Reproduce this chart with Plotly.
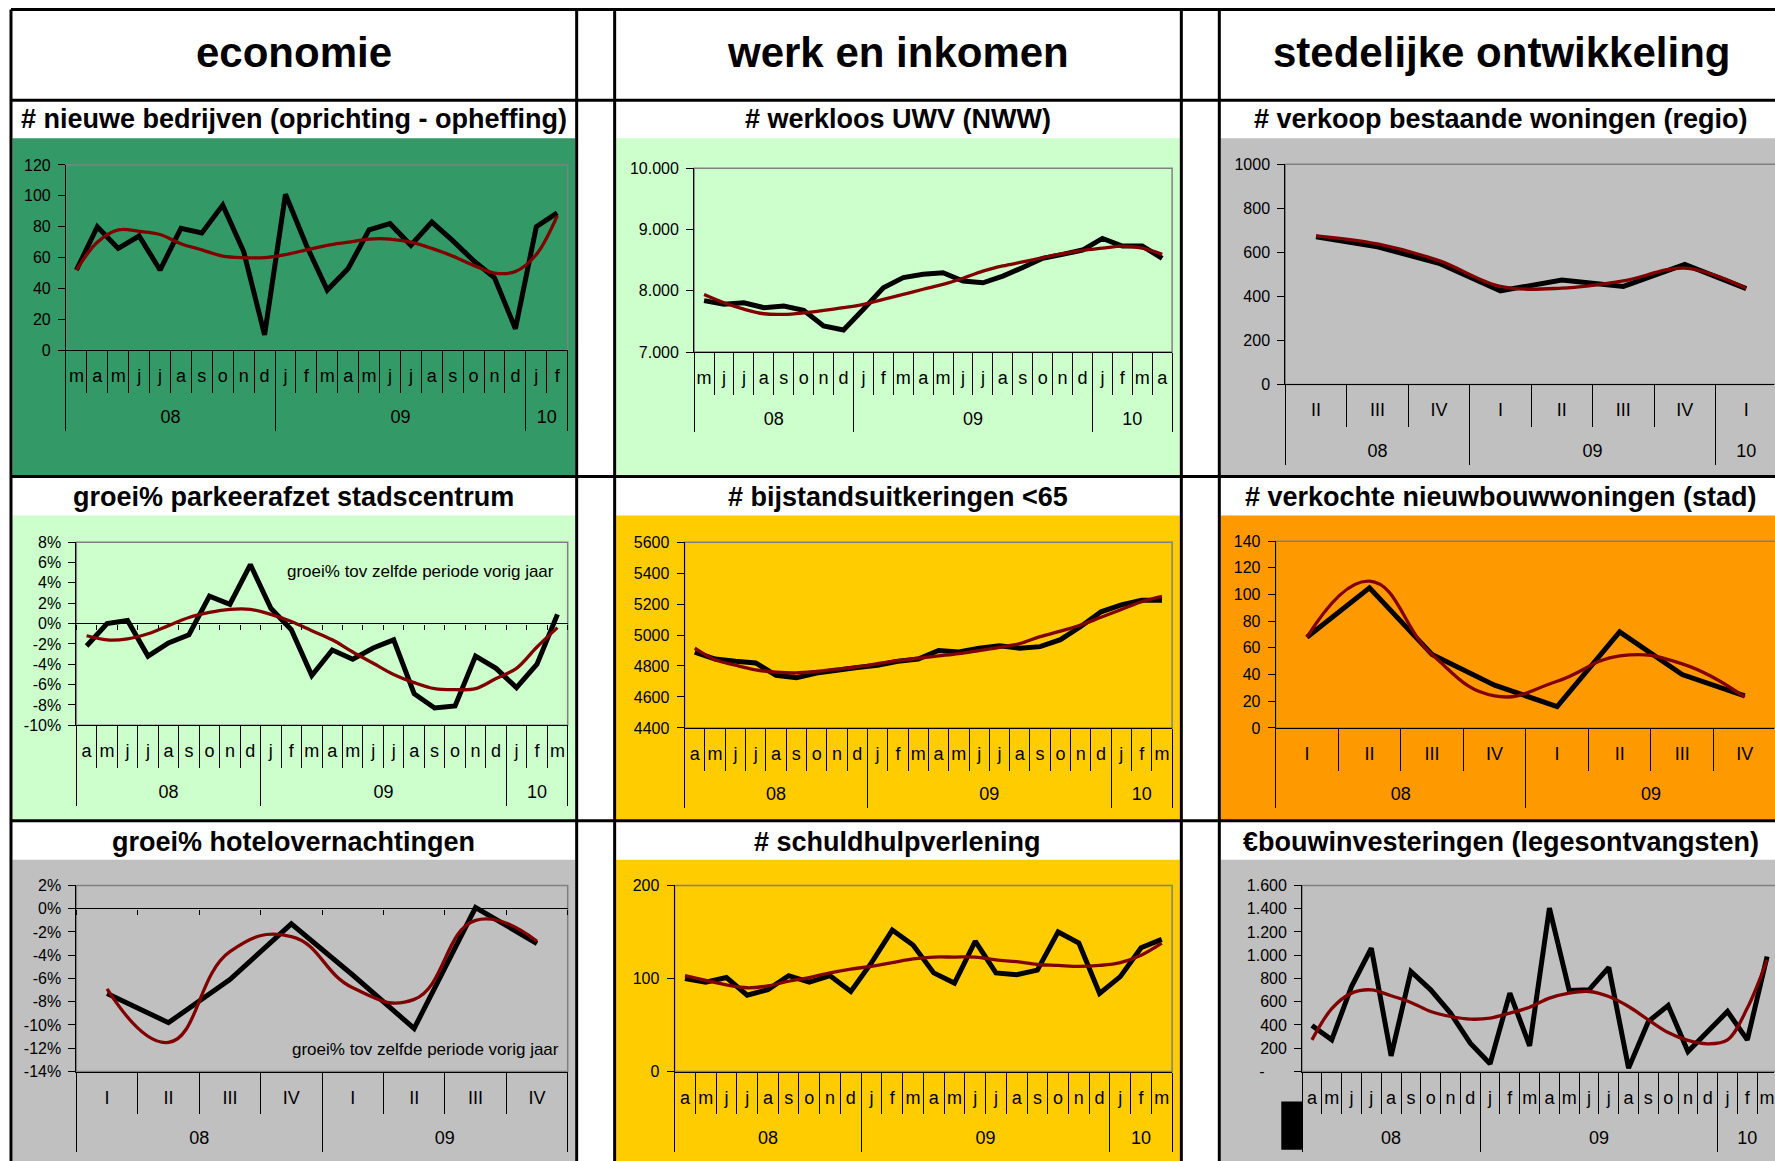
import plotly.graph_objects as go

W, H = 1775, 1161
FONT = "Liberation Sans, Arial, Helvetica, sans-serif"

# ---------------- data ----------------
header_labels = ["economie", "werk en inkomen", "stedelijke ontwikkeling"]
note_text = "groei% tov zelfde periode vorig jaar"

p1_title = "# nieuwe bedrijven (oprichting - opheffing)"
p1_cats = ["m", "a", "m", "j", "j", "a", "s", "o", "n", "d",
           "j", "f", "m", "a", "m", "j", "j", "a", "s", "o", "n", "d", "j", "f"]
p1_years = ["08", "09", "10"]
p1_year_sizes = [10, 12, 2]
p1_actual = [52, 80, 66, 74, 52, 79, 76, 94, 64, 10, 101, 68, 39, 53, 78, 82, 68, 83, 71, 58, 47, 14, 80, 89]
p1_trend = [52, 70, 78, 77, 75, 69, 65, 61, 60, 60, 62, 65, 68, 70, 72, 72, 70, 66, 61, 55, 50, 51, 62, 87]
p1_yvals = [0, 20, 40, 60, 80, 100, 120]
p1_ytext = ["0", "20", "40", "60", "80", "100", "120"]

p2_title = "# werkloos UWV (NWW)"
p2_cats = ["m", "j", "j", "a", "s", "o", "n", "d",
           "j", "f", "m", "a", "m", "j", "j", "a", "s", "o", "n", "d", "j", "f", "m", "a"]
p2_years = ["08", "09", "10"]
p2_year_sizes = [8, 12, 4]
p2_actual = [7840, 7780, 7805, 7725, 7750, 7680, 7425, 7360, 7700, 8050, 8215, 8270,
             8295, 8160, 8130, 8240, 8380, 8530, 8595, 8665, 8855, 8730, 8730, 8530]
p2_trend = [7940, 7805, 7700, 7625, 7615, 7640, 7680, 7725, 7780, 7860, 7940, 8025,
            8105, 8205, 8320, 8405, 8470, 8540, 8605, 8660, 8695, 8730, 8695, 8595]
p2_yvals = [7000, 8000, 9000, 10000]
p2_ytext = ["7.000", "8.000", "9.000", "10.000"]

p3_title = "# verkoop bestaande woningen (regio)"
p3_cats = ["II", "III", "IV", "I", "II", "III", "IV", "I"]
p3_years = ["08", "09", "10"]
p3_year_sizes = [3, 4, 1]
p3_actual = [670, 625, 550, 425, 474, 445, 545, 435]
p3_trend = [675, 638, 562, 445, 437, 470, 528, 437]
p3_yvals = [0, 200, 400, 600, 800, 1000]
p3_ytext = ["0", "200", "400", "600", "800", "1000"]

p4_title = "groei% parkeerafzet stadscentrum"
p4_cats = ["a", "m", "j", "j", "a", "s", "o", "n", "d",
           "j", "f", "m", "a", "m", "j", "j", "a", "s", "o", "n", "d", "j", "f", "m"]
p4_years = ["08", "09", "10"]
p4_year_sizes = [9, 12, 3]
p4_actual = [-2.2, 0.0, 0.3, -3.2, -1.9, -1.1, 2.7, 1.9, 5.8, 1.5, -0.6, -5.1,
             -2.6, -3.5, -2.4, -1.6, -6.9, -8.3, -8.1, -3.2, -4.4, -6.3, -4.0, 0.9]
p4_trend = [-1.2, -1.6, -1.5, -1.0, -0.2, 0.6, 1.1, 1.4, 1.4, 0.9, 0.2, -0.7,
            -1.6, -2.8, -3.9, -5.0, -5.8, -6.4, -6.5, -6.4, -5.4, -4.4, -2.3, -0.4]
p4_yvals = [-10, -8, -6, -4, -2, 0, 2, 4, 6, 8]
p4_ytext = ["-10%", "-8%", "-6%", "-4%", "-2%", "0%", "2%", "4%", "6%", "8%"]

p5_title = "# bijstandsuitkeringen <65"
p5_cats = ["a", "m", "j", "j", "a", "s", "o", "n", "d",
           "j", "f", "m", "a", "m", "j", "j", "a", "s", "o", "n", "d", "j", "f", "m"]
p5_years = ["08", "09", "10"]
p5_year_sizes = [9, 12, 3]
p5_actual = [4890, 4845, 4830, 4820, 4740, 4725, 4755, 4775, 4790, 4805, 4830, 4845,
             4900, 4890, 4915, 4930, 4915, 4925, 4970, 5055, 5150, 5195, 5225, 5225]
p5_trend = [4915, 4840, 4805, 4775, 4760, 4755, 4765, 4780, 4795, 4815, 4835, 4850,
            4865, 4880, 4900, 4920, 4945, 4990, 5025, 5065, 5115, 5165, 5215, 5250]
p5_yvals = [4400, 4600, 4800, 5000, 5200, 5400, 5600]
p5_ytext = ["4400", "4600", "4800", "5000", "5200", "5400", "5600"]

p6_title = "# verkochte nieuwbouwwoningen (stad)"
p6_cats = ["I", "II", "III", "IV", "I", "II", "III", "IV"]
p6_years = ["08", "09"]
p6_year_sizes = [4, 4]
p6_actual = [68, 105, 55, 32, 16, 72, 40, 24]
p6_trend = [68, 110, 55, 24, 35, 54, 48, 23]
p6_yvals = [0, 20, 40, 60, 80, 100, 120, 140]
p6_ytext = ["0", "20", "40", "60", "80", "100", "120", "140"]

p7_title = "groei% hotelovernachtingen"
p7_cats = ["I", "II", "III", "IV", "I", "II", "III", "IV"]
p7_years = ["08", "09"]
p7_year_sizes = [4, 4]
p7_actual = [-7.3, -9.8, -6.1, -1.3, -5.7, -10.3, 0.1, -3.0]
p7_trend = [-6.9, -11.5, -3.7, -2.4, -6.8, -7.8, -1.0, -2.8]
p7_yvals = [-14, -12, -10, -8, -6, -4, -2, 0, 2]
p7_ytext = ["-14%", "-12%", "-10%", "-8%", "-6%", "-4%", "-2%", "0%", "2%"]

p8_title = "# schuldhulpverlening"
p8_cats = ["a", "m", "j", "j", "a", "s", "o", "n", "d",
           "j", "f", "m", "a", "m", "j", "j", "a", "s", "o", "n", "d", "j", "f", "m"]
p8_years = ["08", "09", "10"]
p8_year_sizes = [9, 12, 3]
p8_actual = [100, 96, 101, 82, 88, 103, 96, 103, 86, 117, 152, 136,
             106, 95, 140, 106, 104, 109, 150, 138, 84, 102, 133, 142]
p8_trend = [103, 98, 93, 90, 92, 97, 101, 106, 110, 113, 117, 121,
            123, 123, 123, 120, 118, 115, 114, 113, 114, 117, 125, 138]
p8_yvals = [0, 100, 200]
p8_ytext = ["0", "100", "200"]

p9_title = "€bouwinvesteringen (legesontvangsten)"
p9_cats = ["a", "m", "j", "j", "a", "s", "o", "n", "d",
           "j", "f", "m", "a", "m", "j", "j", "a", "s", "o", "n", "d", "j", "f", "m"]
p9_years = ["08", "09", "10"]
p9_year_sizes = [9, 12, 3]
p9_actual = [396, 272, 731, 1061, 135, 860, 702, 502, 244, 66, 674, 221,
             1405, 697, 702, 895, 29, 430, 568, 172, 344, 516, 272, 989]
p9_trend = [272, 540, 674, 702, 651, 594, 516, 473, 450, 459, 502, 553,
            631, 674, 688, 645, 559, 444, 335, 267, 238, 272, 545, 960]
p9_yvals = [0, 200, 400, 600, 800, 1000, 1200, 1400, 1600]
p9_ytext = ["-\u00a0\u00a0\u00a0\u00a0\u00a0", "200", "400", "600", "800", "1.000", "1.200", "1.400", "1.600"]

panels = [
    (p1_title, p1_cats, p1_years, p1_year_sizes, p1_actual, p1_trend, p1_yvals, p1_ytext),
    (p2_title, p2_cats, p2_years, p2_year_sizes, p2_actual, p2_trend, p2_yvals, p2_ytext),
    (p3_title, p3_cats, p3_years, p3_year_sizes, p3_actual, p3_trend, p3_yvals, p3_ytext),
    (p4_title, p4_cats, p4_years, p4_year_sizes, p4_actual, p4_trend, p4_yvals, p4_ytext),
    (p5_title, p5_cats, p5_years, p5_year_sizes, p5_actual, p5_trend, p5_yvals, p5_ytext),
    (p6_title, p6_cats, p6_years, p6_year_sizes, p6_actual, p6_trend, p6_yvals, p6_ytext),
    (p7_title, p7_cats, p7_years, p7_year_sizes, p7_actual, p7_trend, p7_yvals, p7_ytext),
    (p8_title, p8_cats, p8_years, p8_year_sizes, p8_actual, p8_trend, p8_yvals, p8_ytext),
    (p9_title, p9_cats, p9_years, p9_year_sizes, p9_actual, p9_trend, p9_yvals, p9_ytext),
]

# ---------------- layout / style (target screen pixels) ----------------
plot_boxes = [  # left, right, top, bottom of each plot area
    (66, 568, 165.7, 351), (694.5, 1172.8, 169, 352.7), (1286, 1778, 165, 385),
    (76.4, 568, 542.7, 725.7), (685, 1172.8, 542.7, 728.3), (1276.4, 1777, 541.7, 728.3),
    (76.4, 568, 885.7, 1071.7), (675, 1172.8, 885.7, 1071.7), (1302.8, 1778, 885.7, 1071.7),
]
bg_colors = ["#339966", "#CCFFCC", "#C0C0C0", "#CCFFCC", "#FFCC00", "#FF9900",
             "#C0C0C0", "#FFCC00", "#C0C0C0"]
smooth = [1.0, 1.0, 1.0, 1.0, 1.0, 1.3, 1.3, 1.0, 1.0]
col_bg = [(12.5, 575.5), (616.5, 1180.5), (1221.5, 1790)]
row_bg = [(139, 475.8), (516, 819.8), (860, 1180)]
col_center = [294, 898.5, 1502]
title_y = [120, 498, 842]
zero_panels = {3, 6}
vlines = [11, 577, 615, 1182, 1220]
hlines = [7, 101, 477, 821]

# vertical correction of the captured page (measured from previous renders)
SY, OFF = 0.98473, 9.0

TICK_FONT = dict(family=FONT, size=16, color="black")
CAT_FONT = dict(family=FONT, size=18, color="black")
YEAR_FONT = dict(family=FONT, size=18, color="black")
MONTH_LABEL_LEN = 9.5
YEAR_LABEL_LEN = 50
SEP_LEN = 41 / SY
DIV_LEN = 78 / SY


def ty(y):
    return y / SY - OFF


def px(x):
    return x / W


def py(y):
    return 1 - ty(y) / H


def xn(k):
    return "x" if k == 1 else f"x{k}"


def yn(k):
    return "y" if k == 1 else f"y{k}"


def xk(k):
    return "xaxis" if k == 1 else f"xaxis{k}"


def yk(k):
    return "yaxis" if k == 1 else f"yaxis{k}"


fig = go.Figure()
lay = {}
shapes = []
annotations = []


def carrier(xname, yname):
    # empty trace so that an overlay axis gets its own subplot and is drawn
    fig.add_trace(go.Scatter(x=[], y=[], xaxis=xname, yaxis=yname, mode="lines",
                             hoverinfo="skip", showlegend=False))


# table backgrounds
for i in range(9):
    c, r = i % 3, i // 3
    shapes.append(dict(type="rect", xref="paper", yref="paper", layer="below",
                       x0=px(col_bg[c][0]), x1=px(col_bg[c][1]),
                       y0=py(row_bg[r][1]), y1=py(row_bg[r][0]),
                       fillcolor=bg_colors[i], line=dict(width=0)))

extra_axis = 37
for i, (title, cats, years, sizes, actual, trend, yvals, ytext) in enumerate(panels):
    n = len(cats)
    left, right, top, bottom = plot_boxes[i]
    vis_right = min(right, W)
    xr = [-0.5, -0.5 + n * (vis_right - left) / (right - left)]
    yr = [yvals[0], yvals[-1]]
    xdom = [px(left), px(vis_right)]
    ydom = [py(bottom), py(top)]
    xi = 4 * i + 1
    yi = i + 1
    xs = list(range(n))

    fig.add_trace(go.Scatter(x=xs, y=actual, xaxis=xn(xi), yaxis=yn(yi), mode="lines",
                             line=dict(color="black", width=5), hoverinfo="skip",
                             showlegend=False, cliponaxis=False))
    fig.add_trace(go.Scatter(x=xs, y=trend, xaxis=xn(xi), yaxis=yn(yi), mode="lines",
                             line=dict(color="#800000", width=3.3, shape="spline",
                                       smoothing=smooth[i]),
                             hoverinfo="skip", showlegend=False, cliponaxis=False))

    common = dict(range=xr, showgrid=False, zeroline=False, fixedrange=True, tickmode="array",
                  ticklabeloverflow="allow")
    lay[xk(xi)] = dict(domain=xdom, anchor=yn(yi), tickvals=xs, ticktext=cats,
                       ticks="outside", ticklen=MONTH_LABEL_LEN, tickcolor="rgba(0,0,0,0)",
                       showline=True, linecolor="black", linewidth=1, tickfont=CAT_FONT, **common)
    bounds = [k - 0.5 for k in range(n + 1)]
    lay[xk(xi + 1)] = dict(domain=xdom, overlaying=xn(xi), anchor=yn(yi), tickvals=bounds,
                           ticks="outside", ticklen=SEP_LEN, tickcolor="black", tickwidth=1,
                           showticklabels=False, showline=False, **common)
    carrier(xn(xi + 1), yn(yi))
    centers, dividers, start = [], [-0.5], 0
    for s in sizes:
        centers.append(start + (s - 1) / 2)
        start += s
        dividers.append(start - 0.5)
    lay[xk(xi + 2)] = dict(domain=xdom, overlaying=xn(xi), anchor=yn(yi), tickvals=centers,
                           ticktext=years, ticks="outside", ticklen=YEAR_LABEL_LEN,
                           tickcolor="rgba(0,0,0,0)", showline=False,
                           tickfont=YEAR_FONT, **common)
    carrier(xn(xi + 2), yn(yi))
    lay[xk(xi + 3)] = dict(domain=xdom, overlaying=xn(xi), anchor=yn(yi), tickvals=dividers,
                           ticks="outside", ticklen=DIV_LEN, tickcolor="black", tickwidth=1,
                           showticklabels=False, showline=False, **common)
    carrier(xn(xi + 3), yn(yi))
    lay[yk(yi)] = dict(domain=ydom, anchor=xn(xi), range=yr, tickmode="array", tickvals=yvals,
                       ticktext=ytext, ticks="outside", ticklen=7, tickcolor="black",
                       ticklabelstandoff=4,
                       showline=True, linecolor="black", linewidth=1, showgrid=False,
                       zeroline=(i in zero_panels), zerolinecolor="black", zerolinewidth=1,
                       tickfont=TICK_FONT, fixedrange=True)
    if i in zero_panels:
        zfrac = (0 - yr[0]) / (yr[1] - yr[0])
        lay[xk(extra_axis)] = dict(domain=xdom, overlaying=xn(xi), anchor="free",
                                   position=ydom[0] + zfrac * (ydom[1] - ydom[0]),
                                   tickvals=bounds, ticks="outside", ticklen=5,
                                   tickcolor="black", showticklabels=False, showline=False,
                                   **common)
        carrier(xn(extra_axis), yn(yi))
        extra_axis += 1

    # plot-area frame (grey top/right)
    shapes.append(dict(type="rect", xref=f"{xn(xi)} domain", yref=f"{yn(yi)} domain",
                       x0=0, x1=1 if right <= W else 1.05, y0=0, y1=1, layer="below",
                       line=dict(color="#808080", width=1.5)))

    c, r = i % 3, i // 3
    annotations.append(dict(text=f"<b>{title}</b>", xref="paper", yref="paper",
                            x=px(col_center[c]), y=py(title_y[r]), showarrow=False,
                            xanchor="center", yanchor="middle",
                            font=dict(family=FONT, size=27, color="black")))

# notes
annotations.append(dict(text=note_text, xref="paper", yref="paper", x=px(556), y=py(571.7),
                        showarrow=False, xanchor="right", yanchor="middle",
                        font=dict(family=FONT, size=17, color="black")))
annotations.append(dict(text=note_text, xref="paper", yref="paper", x=px(561.7), y=py(1050),
                        showarrow=False, xanchor="right", yanchor="middle",
                        font=dict(family=FONT, size=17, color="black")))

# headers
for c, lab in enumerate(header_labels):
    annotations.append(dict(text=f"<b>{lab}</b>", xref="paper", yref="paper",
                            x=px(col_center[c]), y=py(53), showarrow=False,
                            xanchor="center", yanchor="middle",
                            font=dict(family=FONT, size=42, color="black")))

# table lines
top_line = max(ty(hlines[0]), 1.5)
for x in vlines:
    shapes.append(dict(type="line", xref="paper", yref="paper", x0=px(x), x1=px(x),
                       y0=1 - top_line / H, y1=py(1180), line=dict(color="black", width=3)))
for k, y in enumerate(hlines):
    yy = 1 - top_line / H if k == 0 else py(y)
    shapes.append(dict(type="line", xref="paper", yref="paper", x0=px(11), x1=px(1790),
                       y0=yy, y1=yy, line=dict(color="black", width=3)))
# black block in the bottom-right chart
shapes.append(dict(type="rect", xref="paper", yref="paper", x0=px(1282), x1=px(1303.5),
                   y0=py(1150), y1=py(1101.7), fillcolor="black", line=dict(width=0)))

fig.update_layout(width=W, height=H, margin=dict(l=0, r=0, t=0, b=0, pad=0), autosize=False,
                  paper_bgcolor="white", plot_bgcolor="rgba(0,0,0,0)",
                  font=dict(family=FONT, color="black"), showlegend=False,
                  shapes=shapes, annotations=annotations, **lay)

post = (
    "var de=document.documentElement, b=document.body;"
    "de.style.margin='0'; de.style.padding='0'; de.style.overflow='hidden';"
    "b.style.margin='0'; b.style.padding='0'; b.style.overflow='hidden';"
    "var gd=document.getElementsByClassName('plotly-graph-div')[0];"
    "if(gd){gd.style.position='fixed'; gd.style.left='0px'; gd.style.top='0px';}"
    "window.scrollTo(0,0);"
)
fig.write_html("out.html", config={"displayModeBar": False, "responsive": False},
               post_script=post)
